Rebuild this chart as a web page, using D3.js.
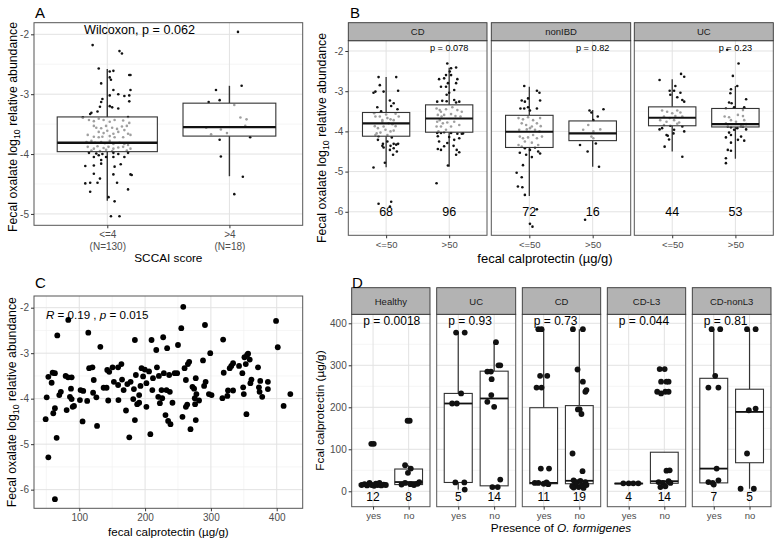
<!DOCTYPE html>
<html><head><meta charset="utf-8">
<script src="https://cdn.jsdelivr.net/npm/d3@7"></script>
<style>body{margin:0;background:#fff}</style>
</head><body><svg id="c" width="775" height="541"></svg>
<script>
// ================= DATA =================
// Panel A
const aCategories = ["<=4", ">4"];
const aCategoryN = ["(N=130)", "(N=18)"];
const aYTicks = [-5, -4, -3, -2];
const aWhiskerLow = [-4.78, -4.37];
const aQ1 = [-3.96, -3.70];
const aMedian = [-3.81, -3.55];
const aQ3 = [-3.38, -3.15];
const aWhiskerHigh = [-2.58, -2.86];
const aTestLabel = "Wilcoxon, p = 0.062";
// [jitter, value]
const aPointsLow = [[-0.12,-2.18],[0.10,-2.28],[0.12,-2.32],[-0.07,-2.57],[0.02,-2.62],[0.05,-2.61],[0.18,-2.68],[0.19,-2.68],[0.02,-2.72],[0.03,-2.76],[-0.05,-2.82],[0.05,-2.93],[0.19,-2.93],[-0.04,-3.08],[-0.05,-3.13],[0.02,-3.02],[0.09,-3.00],[0.14,-3.03],[0.18,-3.02],[0.18,-3.12],[-0.06,-3.21],[-0.08,-3.29],[-0.14,-3.33],[-0.13,-3.31],[0.02,-3.20],[0.04,-3.22],[0.09,-3.24],[-0.20,-3.39],[0.17,-3.38],
[-0.20,-3.39],[-0.15,-3.43],[-0.11,-3.45],[-0.07,-3.41],[-0.03,-3.43],[0.02,-3.46],[0.06,-3.43],[0.13,-3.44],[0.18,-3.48],[-0.11,-3.53],[-0.09,-3.56],[-0.05,-3.57],[-0.01,-3.53],[0.04,-3.56],[0.08,-3.58],[0.12,-3.54],[0.16,-3.53],[-0.07,-3.63],[-0.03,-3.65],[0.00,-3.61],[0.05,-3.66],[0.09,-3.63],[0.14,-3.60],[0.17,-3.66],[-0.16,-3.68],[-0.11,-3.71],[-0.07,-3.72],[-0.04,-3.71],[0.02,-3.70],[0.06,-3.72],[0.13,-3.72],[0.19,-3.68],[-0.17,-3.80],[-0.13,-3.78],[-0.10,-3.81],[-0.05,-3.80],[-0.02,-3.82],[0.02,-3.78],[0.05,-3.83],[0.10,-3.81],[0.14,-3.83],[0.17,-3.85],[-0.16,-3.88],[-0.11,-3.91],[-0.08,-3.87],[-0.03,-3.90],[0.01,-3.88],[0.05,-3.91],[0.09,-3.89],[0.13,-3.88],[0.19,-3.91],[-0.13,-3.94],[-0.06,-3.95],[-0.01,-3.93],[0.04,-3.95],[0.16,-3.94],
[-0.15,-3.98],[-0.09,-3.99],[-0.04,-4.00],[0.05,-3.98],[0.09,-4.00],[0.17,-3.98],[0.14,-4.05],
[-0.18,-4.20],[-0.11,-4.19],[-0.05,-4.10],[-0.05,-4.16],[-0.01,-4.05],[0.05,-4.05],[-0.07,-4.02],[-0.11,-4.05],[0.06,-4.21],[0.11,-4.17],[-0.11,-4.33],[0.05,-4.34],[0.19,-4.34],[0.20,-4.35],[-0.06,-4.41],[0.08,-4.48],[-0.18,-4.49],[-0.14,-4.48],[-0.08,-4.48],[-0.14,-4.63],[0.17,-4.59],[0.06,-4.79],[0.01,-4.72],[0.03,-5.04],[0.10,-5.04]];
const aPointsHigh = [[0.07,-1.96],[-0.11,-2.93],[0.10,-2.86],[-0.08,-3.10],[-0.17,-3.13],[0.04,-3.18],[0.09,-3.39],[0.14,-3.42],[0.13,-3.53],[-0.07,-3.59],[-0.19,-3.56],[-0.02,-3.65],[-0.15,-3.67],[0.17,-3.72],[-0.08,-3.76],[-0.07,-4.04],[0.11,-4.38],[0.04,-4.67]];

// Panel B
const bFacets = ["CD", "nonIBD", "UC"];
const bCategories = ["<=50", ">50"];
const bCounts = [[68, 96], [72, 16], [44, 53]];
const bPLabels = ["p = 0.078", "p = 0.82", "p = 0.23"];
const bYTicks = [-6, -5, -4, -3, -2];
const bWhiskerLow = [[-4.89, -4.88], [-5.61, -4.88], [-4.50, -4.68]];
const bQ1 = [[-4.12, -4.02], [-4.40, -4.23], [-3.86, -3.89]];
const bMedian = [[-3.80, -3.68], [-4.01, -4.05], [-3.66, -3.82]];
const bQ3 = [[-3.53, -3.34], [-3.60, -3.74], [-3.39, -3.43]];
const bWhiskerHigh = [[-2.65, -2.42], [-2.89, -3.47], [-2.70, -2.87]];
const bPointsCDLow = [[-0.12,-2.65],[0.16,-2.65],[-0.10,-2.85],[-0.20,-3.04],[-0.17,-3.01],[-0.04,-3.01],[0.06,-3.23],[0.19,-2.99],[0.12,-3.30],[0.08,-3.37],[-0.14,-3.40],[0.18,-3.45],[0.20,-3.63],[-0.17,-3.63],[-0.10,-3.63],[-0.06,-3.72],[0.02,-3.67],[0.07,-3.70],[0.12,-3.72],[-0.18,-3.87],[-0.13,-3.92],[-0.04,-3.88],[0.04,-3.80],[0.10,-3.82],[0.15,-3.87],[-0.15,-4.05],[-0.09,-4.03],[-0.01,-3.96],[0.07,-4.00],[0.12,-3.98],[-0.17,-4.09],[0.02,-4.09],[-0.06,-3.76],[-0.19,-3.55],[0.15,-3.56],[-0.08,-3.50],[0.00,-3.58],[-0.12,-4.12],[0.09,-4.15],[-0.13,-4.21],[0.02,-4.25],[-0.05,-4.31],[-0.06,-4.36],[0.12,-4.31],[0.07,-4.36],[0.16,-4.33],[0.19,-4.31],[-0.04,-4.40],[0.12,-4.42],[0.06,-4.46],[0.17,-4.50],[0.11,-4.58],[-0.20,-4.90],[-0.02,-4.78],[-0.12,-5.80],[0.08,-5.75],[0.06,-5.87]];
const bPointsCDHigh = [[-0.03,-2.31],[0.03,-2.43],[0.01,-2.51],[0.11,-2.41],[-0.05,-2.60],[0.03,-2.60],[-0.16,-2.70],[-0.08,-2.68],[0.13,-2.70],[-0.02,-2.80],[-0.13,-2.89],[-0.05,-2.89],[0.11,-2.80],[0.08,-2.97],[0.00,-3.04],[-0.04,-3.09],[-0.19,-3.26],[-0.11,-3.24],[-0.04,-3.25],[0.11,-3.28],[0.16,-3.26],[0.08,-3.22],[-0.20,-3.43],[-0.15,-3.47],[-0.13,-3.51],[-0.05,-3.45],[0.05,-3.40],[0.13,-3.47],[0.20,-3.51],[-0.18,-3.59],[-0.12,-3.63],[-0.08,-3.59],[0.03,-3.57],[0.10,-3.62],[0.18,-3.63],[-0.19,-3.76],[-0.15,-3.72],[-0.10,-3.80],[-0.03,-3.78],[0.08,-3.76],[0.16,-3.84],[-0.13,-3.88],[0.03,-3.88],[-0.20,-3.88],[-0.05,-3.96],[-0.19,-4.04],[-0.13,-4.04],[-0.08,-4.02],[0.03,-4.04],[0.13,-4.06],[0.20,-4.06],[-0.17,-4.00],[0.00,-4.14],[-0.18,-4.12],[0.08,-4.21],[0.16,-4.17],[0.22,-4.05],[-0.16,-4.25],[-0.03,-4.29],[0.07,-4.36],[-0.08,-4.37],[-0.18,-4.44],[-0.13,-4.46],[0.12,-4.46],[0.16,-4.52],[0.11,-4.58],[-0.02,-4.85],[-0.20,-5.29]];
const bPointsNonLow = [[-0.08,-2.87],[0.12,-2.99],[0.16,-3.04],[-0.12,-3.23],[-0.07,-3.26],[-0.02,-3.18],[0.17,-3.23],[-0.14,-3.43],[-0.08,-3.43],[-0.02,-3.40],[0.01,-3.48],[0.12,-3.43],[-0.17,-3.67],[-0.10,-3.70],[-0.02,-3.65],[0.06,-3.72],[0.17,-3.67],[-0.12,-3.80],[-0.05,-3.84],[0.04,-3.88],[0.12,-3.80],[0.18,-3.87],[-0.16,-3.96],[-0.04,-3.95],[0.01,-3.92],[0.09,-3.96],[0.16,-4.00],[-0.15,-4.13],[-0.10,-4.17],[-0.02,-4.15],[0.06,-4.09],[0.12,-4.17],[0.20,-4.13],[-0.07,-4.25],[0.04,-4.28],[-0.17,-4.34],[0.14,-4.34],[-0.12,-4.38],[-0.07,-4.42],[0.01,-4.46],[0.09,-4.40],[0.14,-4.50],[0.17,-4.55],[-0.15,-4.53],[-0.05,-4.58],[0.04,-4.64],[-0.10,-4.84],[-0.20,-5.03],[-0.12,-5.14],[-0.18,-5.37],[-0.11,-5.39],[-0.07,-5.58],[0.12,-5.94],[0.01,-6.30],[0.05,-6.37]];
const bPointsNonHigh = [[-0.02,-3.53],[0.17,-3.45],[0.08,-3.63],[-0.07,-3.84],[-0.15,-3.96],[-0.02,-4.13],[0.01,-4.17],[-0.20,-4.34],[-0.08,-4.50],[0.10,-4.88],[-0.12,-6.20],[0.01,-4.00],[0.01,-3.72],[-0.05,-3.48],[0.12,-3.95],[0.05,-4.30]];
const bPointsUCLow = [[-0.20,-2.72],[0.14,-2.57],[0.19,-2.64],[0.05,-2.87],[-0.04,-2.99],[0.03,-2.99],[0.13,-3.04],[-0.03,-3.09],[0.08,-3.15],[0.19,-3.26],[0.16,-3.22],[-0.16,-3.48],[-0.08,-3.51],[0.00,-3.55],[0.08,-3.48],[0.13,-3.53],[-0.13,-3.63],[-0.04,-3.67],[0.05,-3.62],[0.16,-3.63],[-0.19,-3.72],[-0.09,-3.76],[0.03,-3.72],[0.11,-3.78],[-0.13,-3.84],[-0.03,-3.86],[0.08,-3.81],[0.16,-3.88],[-0.20,-3.95],[-0.16,-3.92],[0.03,-3.96],[-0.09,-4.09],[-0.07,-4.11],[0.19,-4.00],[-0.12,-4.38],[0.16,-4.63],[0.02,-4.05],[-0.05,-4.20]];
const bPointsUCHigh = [[-0.13,-1.97],[0.05,-2.31],[-0.04,-2.62],[0.03,-2.87],[-0.07,-2.95],[-0.08,-3.05],[0.17,-3.20],[-0.10,-3.28],[-0.06,-3.30],[-0.02,-3.40],[-0.15,-3.43],[0.14,-3.40],[0.12,-3.47],[-0.17,-3.63],[-0.10,-3.65],[0.04,-3.59],[0.12,-3.62],[-0.07,-3.72],[0.14,-3.72],[-0.15,-3.80],[0.01,-3.76],[0.17,-3.82],[0.09,-3.87],[-0.12,-3.88],[-0.07,-3.90],[0.03,-3.92],[0.12,-3.88],[0.17,-3.95],[-0.02,-3.96],[-0.10,-4.03],[-0.15,-4.15],[-0.07,-4.09],[0.09,-4.13],[0.14,-4.23],[-0.07,-4.28],[-0.12,-4.46],[-0.07,-4.48],[-0.15,-4.67],[-0.15,-4.79],[0.04,-4.21]];

// Panel C
const cXTicks = [100, 200, 300, 400];
const cYTicks = [-6, -5, -4, -3, -2];
const cCalprotectin = [48.9,50.5,53,53,58,59.5,63,60.5,63,66.6,65.6,63,69.6,72,79.3,83,88.4,83.3,80.8,87.4,85.8,88.4,92,90,102,105,101,106,112,113.7,115,120,122,121,126,127,132,137,141.5,142.5,145.5,144,150.6,152.6,159,159.5,159,164,165,167.4,171,173,176,178,182,183,184.5,184.5,186,188,191,191,193,194.6,197,199.6,202,202,206,208,209.8,211,212,217,218,220,221,222.5,225,226,227.5,228.5,231,232.5,233.5,235,236.6,238.6,237.6,241.6,245,248.7,250,255,258,256.8,260,262,262,264,265,267,269,272,274.5,275.5,276,277,277,278,282,288,289.7,291,292,297,301,299,317.5,318.6,319.5,325,326,328.6,331,333.7,333.7,342.8,347.8,349,350,351,353,354,355,356.5,359,360,361.6,371.6,373,374,375,378,386.6,386.6,399,401.6,410.5,420.7];
const cOxalate = [-4.45,-3.97,-3.52,-5.29,-3.65,-3.43,-3.44,-4.32,-4.21,-2.61,-4.86,-6.21,-3.92,-3.85,-3.50,-3.53,-3.53,-2.27,-4.25,-3.78,-3.96,-4.01,-4.16,-4.18,-3.81,-4.50,-4.03,-3.83,-4.05,-2.55,-3.33,-3.31,-3.59,-3.87,-3.97,-4.60,-2.86,-3.76,-3.76,-3.37,-3.41,-4.04,-3.31,-3.63,-3.70,-4.03,-3.31,-3.24,-3.58,-3.81,-4.26,-3.68,-4.85,-3.63,-4.01,-3.79,-4.47,-2.71,-3.48,-4.12,-4.09,-3.92,-3.72,-3.33,-3.51,-3.36,-4.18,-3.66,-3.40,-4.78,-2.71,-3.81,-3.55,-2.93,-3.31,-3.96,-3.50,-4.10,-3.81,-3.99,-2.65,-3.44,-4.36,-3.81,-2.89,-4.49,-3.48,-4.56,-3.85,-4.09,-3.44,-3.44,-2.82,-2.45,-1.98,-4.40,-3.33,-3.59,-4.18,-4.13,-3.24,-3.19,-4.67,-3.74,-3.78,-3.99,-4.12,-3.55,-4.47,-3.90,-4.04,-3.16,-3.72,-2.38,-3.63,-3.90,-3.92,-3.00,-3.99,-2.70,-3.43,-3.94,-3.82,-3.33,-3.28,-3.22,-3.82,-3.28,-3.44,-3.75,-3.90,-3.09,-3.24,-4.34,-3.04,-3.01,-3.14,-3.66,-3.58,-3.31,-3.75,-3.85,-3.61,-3.96,-3.63,-3.79,-2.29,-2.87,-4.16,-3.90];
const cStatR = "0.19", cStatP = "0.015";

// Panel D
const dFacets = ["Healthy", "UC", "CD", "CD-L3", "CD-nonL3"];
const dGroups = ["yes", "no"];
const dCounts = [[12, 8], [5, 14], [11, 19], [4, 14], [7, 5]];
const dPLabels = ["p = 0.0018", "p = 0.93", "p = 0.73", "p = 0.044", "p = 0.81"];
const dYTicks = [0, 100, 200, 300, 400];
const dWhiskerLow = [[11, 14], [4, 10], [17, 5], [17, 10], [20, 6]];
const dQ1 = [[13, 16], [21, 13], [18, 18], [18, 19], [20, 68]];
const dMedian = [[15, 22], [209, 221], [20, 25], [18.5, 24], [54, 189]];
const dQ3 = [[18, 53], [233, 286], [199, 204], [19, 93], [269, 243]];
const dWhiskerHigh = [[22, 62], [378, 355], [386, 386], [19.5, 50], [386, 386]];
const dHealthyYes = [[-0.05,113],[0.02,113],[-0.32,15],[-0.24,17],[-0.17,14],[-0.10,20],[-0.04,15],[0.03,13],[0.08,18],[0.13,15],[0.18,20],[0.23,14],[0.30,16],[0.36,15]];
const dHealthyNo = [[-0.03,168],[0.03,168],[-0.10,62],[-0.02,44],[0.06,54],[-0.20,16],[-0.10,20],[0.05,17],[0.15,15],[0.25,18],[0.30,22]];
const dUCYes = [[-0.06,378],[0.18,378],[0.08,233],[-0.17,209],[-0.04,209],[-0.08,21],[0.17,21],[0.18,4]];
const dUCNo = [[0.05,355],[0.12,300],[0.17,300],[-0.19,285],[-0.09,285],[-0.07,267],[-0.08,229],[-0.19,213],[0.00,201],[0.17,28],[-0.05,10],[0.10,10]];
const dCDYes = [[-0.15,386],[-0.06,386],[-0.10,275],[0.10,275],[-0.20,247],[-0.06,247],[-0.08,54],[0.15,54],[-0.25,20],[-0.15,20],[0.00,18],[0.13,17],[0.08,21]];
const dCDNo = [[-0.18,386],[0.10,386],[-0.05,290],[0.10,261],[0.17,237],[0.20,241],[-0.04,195],[0.01,195],[0.06,184],[-0.19,90],[0.09,48],[-0.16,26],[-0.07,22],[0.03,25],[0.17,22],[-0.16,9],[-0.02,10],[0.12,8],[-0.11,17],[0.08,14],[-0.20,12],[0.20,15]];
const dL3Yes = [[-0.15,19],[0.00,19],[0.13,19],[0.27,19]];
const dL3No = [[-0.13,291],[0.01,291],[-0.09,261],[0.06,261],[0.12,261],[-0.20,237],[-0.09,233],[0.03,237],[0.12,237],[0.06,49],[0.15,50],[-0.16,22],[-0.04,20],[0.12,24],[-0.11,10],[0.03,12],[0.17,20]];
const dNonL3Yes = [[-0.06,386],[0.18,386],[0.04,275],[-0.15,247],[0.13,247],[0.08,54],[-0.15,22],[-0.03,20],[0.13,26],[0.00,16]];
const dNonL3No = [[-0.07,386],[0.17,386],[-0.02,193],[0.17,197],[-0.07,90],[-0.25,6],[0.12,6]];

// ================= DRAWING =================
const FONT = '"Liberation Sans", Arial, Helvetica, sans-serif';
const MAJOR = "#E2E2E2", MINOR = "#F1F1F1", BORDER = "#555", INK = "#333", TICKTXT = "#4D4D4D";
const svg = d3.select("#c").style("font-family", FONT);

function txt(g, x, y, s, size, anchor, opts = {}) {
  const t = g.append("text").attr("x", x).attr("y", y).attr("font-size", size)
    .attr("text-anchor", anchor || "start").attr("fill", opts.fill || "#000").text(s);
  if (opts.rotate) t.attr("transform", `rotate(-90,${x},${y})`);
  return t;
}
function hGrid(g, x0, x1, ys, vals, color, w) {
  vals.forEach(v => g.append("line").attr("x1", x0).attr("x2", x1).attr("y1", ys(v)).attr("y2", ys(v)).attr("stroke", color).attr("stroke-width", w));
}
function vGrid(g, y0, y1, xs, vals, color, w) {
  vals.forEach(v => g.append("line").attr("y1", y0).attr("y2", y1).attr("x1", xs(v)).attr("x2", xs(v)).attr("stroke", color).attr("stroke-width", w));
}
function frame(g, x0, y0, x1, y1) {
  g.append("rect").attr("x", x0).attr("y", y0).attr("width", x1 - x0).attr("height", y1 - y0).attr("fill", "none").attr("stroke", BORDER).attr("stroke-width", 1);
}
function leftAxis(g, x0, ys, ticks, size) {
  const ax = g.append("g").attr("transform", `translate(${x0},0)`)
    .call(d3.axisLeft(ys).tickValues(ticks).tickSize(3).tickPadding(2).tickFormat(d => String(d)));
  ax.select(".domain").remove();
  ax.selectAll("line").attr("stroke", INK);
  ax.selectAll("text").attr("fill", TICKTXT).attr("font-size", size).attr("font-family", FONT);
}
function bottomAxis(g, y0, xs, ticks, size, fmt) {
  const axis = d3.axisBottom(xs).tickSize(3).tickPadding(3);
  if (ticks) axis.tickValues(ticks);
  axis.tickFormat(fmt || (d => String(d)));
  const ax = g.append("g").attr("transform", `translate(0,${y0})`).call(axis);
  ax.select(".domain").remove();
  ax.selectAll("line").attr("stroke", INK);
  ax.selectAll("text").attr("fill", TICKTXT).attr("font-size", size).attr("font-family", FONT);
  return ax;
}
function strip(g, x0, x1, y0, y1, label, size) {
  g.append("rect").attr("x", x0).attr("y", y0).attr("width", x1 - x0).attr("height", y1 - y0)
    .attr("fill", "#B3B3B3").attr("stroke", INK).attr("stroke-width", 0.9);
  txt(g, (x0 + x1) / 2, (y0 + y1) / 2, label, size, "middle", { fill: "#1A1A1A" }).attr("dominant-baseline", "central");
}
function whiskers(g, cx, ys, lo, q1, q3, hi, w) {
  g.append("line").attr("x1", cx).attr("x2", cx).attr("y1", ys(hi)).attr("y2", ys(q3)).attr("stroke", INK).attr("stroke-width", w);
  g.append("line").attr("x1", cx).attr("x2", cx).attr("y1", ys(q1)).attr("y2", ys(lo)).attr("stroke", INK).attr("stroke-width", w);
}
function boxRect(g, cx, hw, ys, q1, med, q3, fill, op, medW) {
  g.append("rect").attr("x", cx - hw).attr("y", ys(q3)).attr("width", 2 * hw).attr("height", Math.max(0.5, ys(q1) - ys(q3)))
    .attr("fill", fill).attr("fill-opacity", op).attr("stroke", INK).attr("stroke-width", 1.1);
  g.append("line").attr("x1", cx - hw).attr("x2", cx + hw).attr("y1", ys(med)).attr("y2", ys(med)).attr("stroke", "#111").attr("stroke-width", medW);
}
function dots(g, pts, cx, unit, ys, r) {
  g.selectAll(null).data(pts).enter().append("circle")
    .attr("cx", d => cx + d[0] * unit).attr("cy", d => ys(d[1])).attr("r", r).attr("fill", "#111");
}
function oxalateTitle(g, x, y, size) {
  const t = g.append("text").attr("x", x).attr("y", y).attr("font-size", size).attr("text-anchor", "middle")
    .attr("transform", `rotate(-90,${x},${y})`);
  t.append("tspan").text("Fecal oxalate log");
  t.append("tspan").attr("font-size", size * 0.72).attr("dy", 3).text("10");
  t.append("tspan").attr("dy", -3).text(" relative abundance");
}

// ---------- Panel A ----------
(function () {
  const g = svg.append("g");
  const x0 = 34, x1 = 302.7, y0 = 22.7, y1 = 225.3;
  const ys = d3.scaleLinear().domain([-5.19, -1.806]).range([y1, y0]);
  const xs = d3.scalePoint().domain(aCategories).range([x0, x1]).padding(0.6);
  const unit = xs.step();
  hGrid(g, x0, x1, ys, [-4.5, -3.5, -2.5], MINOR, 0.7);
  hGrid(g, x0, x1, ys, aYTicks, MAJOR, 1);
  vGrid(g, y0, y1, xs, aCategories, MAJOR, 1);
  const sets = [aPointsLow, aPointsHigh];
  const hws = [0.41, 0.38];
  aCategories.forEach((c, i) => {
    const cx = xs(c);
    whiskers(g, cx, ys, aWhiskerLow[i], aQ1[i], aQ3[i], aWhiskerHigh[i], 1.4);
    dots(g, sets[i], cx, unit, ys, 1.3);
    boxRect(g, cx, hws[i] * unit, ys, aQ1[i], aMedian[i], aQ3[i], "#fff", 0.6, 2.4);
  });
  frame(g, x0, y0, x1, y1);
  leftAxis(g, x0, ys, aYTicks, 10);
  const ax = bottomAxis(g, y1, xs, null, 10, d => d);
  ax.selectAll(".tick text").each(function (d, i) {
    const t = d3.select(this);
    t.text(null);
    t.append("tspan").attr("x", 0).text(d);
    t.append("tspan").attr("x", 0).attr("dy", "1.2em").text(aCategoryN[i]);
  });
  txt(g, (x0 + x1) / 2, 262, "SCCAI score", 11.8, "middle");
  oxalateTitle(g, 16.5, (y0 + y1) / 2 + 3, 12.3);
  txt(g, 139.5, 33.8, aTestLabel, 12.6, "middle");
  txt(g, 35, 17.5, "A", 15, "start");
})();

// ---------- Panel B ----------
(function () {
  const g = svg.append("g");
  const panels = [[348.3, 487], [491.3, 630.7], [634.3, 773.3]];
  const sy0 = 22.7, y0 = 40.7, y1 = 235.3;
  const ys = d3.scaleLinear().domain([-6.585, -1.744]).range([y1, y0]);
  const sets = [[bPointsCDLow, bPointsCDHigh], [bPointsNonLow, bPointsNonHigh], [bPointsUCLow, bPointsUCHigh]];
  bFacets.forEach((f, fi) => {
    const [x0, x1] = panels[fi];
    const xs = d3.scalePoint().domain(bCategories).range([x0, x1]).padding(0.6);
    const unit = xs.step();
    hGrid(g, x0, x1, ys, [-6.5, -5.5, -4.5, -3.5, -2.5], MINOR, 0.7);
    hGrid(g, x0, x1, ys, bYTicks, MAJOR, 1);
    vGrid(g, y0, y1, xs, bCategories, MAJOR, 1);
    bCategories.forEach((c, i) => {
      const cx = xs(c);
      whiskers(g, cx, ys, bWhiskerLow[fi][i], bQ1[fi][i], bQ3[fi][i], bWhiskerHigh[fi][i], 1.3);
      dots(g, sets[fi][i], cx, unit, ys, 1.3);
      boxRect(g, cx, 0.375 * unit, ys, bQ1[fi][i], bMedian[fi][i], bQ3[fi][i], "#fff", 0.6, 2.1);
      txt(g, cx, ys(-6) + 4.5, String(bCounts[fi][i]), 12.5, "middle");
    });
    txt(g, xs(bCategories[1]), 51, bPLabels[fi], 9.2, "middle");
    frame(g, x0, y0, x1, y1);
    strip(g, x0, x1, sy0, y0, f, 9.5);
    bottomAxis(g, y1, xs, null, 9.5, d => d);
    if (fi === 0) leftAxis(g, x0, ys, bYTicks, 10);
  });
  txt(g, 545, 262.5, "fecal calprotectin (\u00b5g/g)", 13, "middle");
  oxalateTitle(g, 326, (y0 + y1) / 2, 12.3);
  txt(g, 350, 17.5, "B", 15, "start");
})();

// ---------- Panel C ----------
(function () {
  const g = svg.append("g");
  const x0 = 34, x1 = 302.7, y0 = 296, y1 = 508.3;
  const xs = d3.scaleLinear().domain([31.2, 439.5]).range([x0, x1]);
  const ys = d3.scaleLinear().domain([-6.41, -1.743]).range([y1, y0]);
  hGrid(g, x0, x1, ys, [-5.5, -4.5, -3.5, -2.5], MINOR, 0.7);
  vGrid(g, y0, y1, xs, [50, 150, 250, 350], MINOR, 0.7);
  hGrid(g, x0, x1, ys, cYTicks, MAJOR, 1);
  vGrid(g, y0, y1, xs, cXTicks, MAJOR, 1);
  g.selectAll(null).data(cCalprotectin).enter().append("circle")
    .attr("cx", d => xs(d)).attr("cy", (d, i) => ys(cOxalate[i])).attr("r", 2.9).attr("fill", "#000");
  frame(g, x0, y0, x1, y1);
  leftAxis(g, x0, ys, cYTicks, 10);
  bottomAxis(g, y1, xs, cXTicks, 10);
  txt(g, (x0 + x1) / 2, 536, "fecal calprotectin (\u00b5g/g)", 11.6, "middle");
  oxalateTitle(g, 16.5, (y0 + y1) / 2, 12.3);
  const t = g.append("text").attr("x", 46).attr("y", 318.5).attr("font-size", 11.6);
  t.append("tspan").attr("font-style", "italic").text("R");
  t.append("tspan").text(" = " + cStatR + " , ");
  t.append("tspan").attr("font-style", "italic").text("p");
  t.append("tspan").text(" = " + cStatP);
  txt(g, 35, 288, "C", 15, "start");
})();

// ---------- Panel D ----------
(function () {
  const g = svg.append("g");
  const panels = [[351.7, 430], [436.7, 515.7], [522.3, 600.7], [607.3, 685.7], [692.3, 771]];
  const sy0 = 287.7, y0 = 314.3, y1 = 506.7;
  const ys = d3.scaleLinear().domain([-36.7, 421.4]).range([y1, y0]);
  const sets = [[dHealthyYes, dHealthyNo], [dUCYes, dUCNo], [dCDYes, dCDNo], [dL3Yes, dL3No], [dNonL3Yes, dNonL3No]];
  dFacets.forEach((f, fi) => {
    const [x0, x1] = panels[fi];
    const xs = d3.scalePoint().domain(dGroups).range([x0, x1]).padding(0.6);
    const unit = xs.step();
    hGrid(g, x0, x1, ys, [50, 150, 250, 350], MINOR, 0.7);
    hGrid(g, x0, x1, ys, dYTicks, MAJOR, 1);
    vGrid(g, y0, y1, xs, dGroups, MAJOR, 1);
    dGroups.forEach((c, i) => {
      const cx = xs(c);
      whiskers(g, cx, ys, dWhiskerLow[fi][i], dQ1[fi][i], dQ3[fi][i], dWhiskerHigh[fi][i], 1.2);
      boxRect(g, cx, 0.39 * unit, ys, dQ1[fi][i], dMedian[fi][i], dQ3[fi][i], "#fff", 1, 1.8);
      dots(g, sets[fi][i], cx, unit, ys, 2.9);
      txt(g, cx, 501, String(dCounts[fi][i]), 12, "middle");
    });
    txt(g, x0 + 11.5, 324.5, dPLabels[fi], 12, "start");
    frame(g, x0, y0, x1, y1);
    strip(g, x0, x1, sy0, y0, f, 9.5);
    bottomAxis(g, y1, xs, null, 9.5, d => d);
    if (fi === 0) leftAxis(g, x0, ys, dYTicks, 10);
  });
  const t = g.append("text").attr("x", 561).attr("y", 532).attr("font-size", 11.8).attr("text-anchor", "middle");
  t.append("tspan").text("Presence of ");
  t.append("tspan").attr("font-style", "italic").text("O. formigenes");
  txt(g, 324, (y0 + y1) / 2, "Fcal calprotectin (\u00b5g/g)", 11.8, "middle", { rotate: true });
  txt(g, 352, 288, "D", 15, "start");
})();
</script></body></html>
